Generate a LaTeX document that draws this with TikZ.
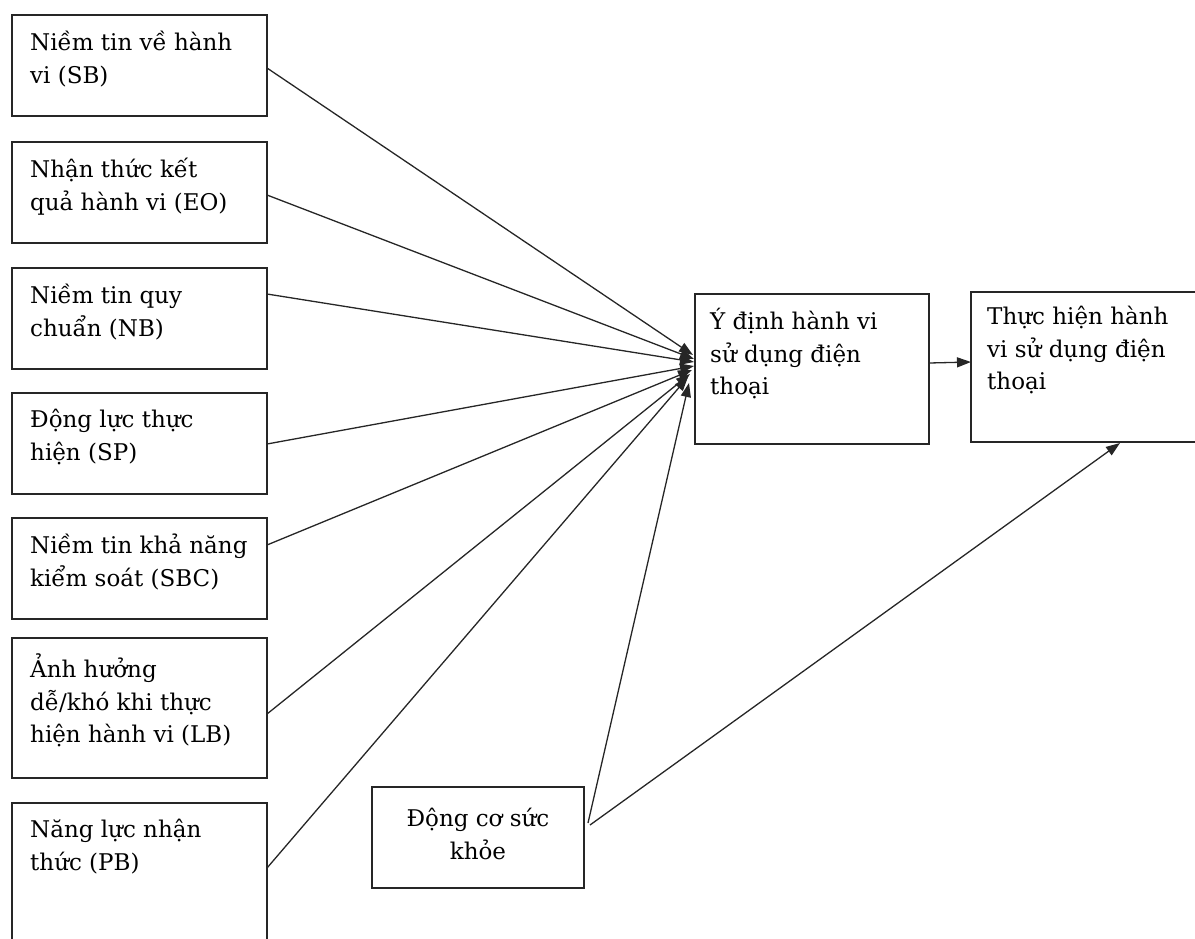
\documentclass[tikz,border=0pt]{standalone}
\usepackage{fontspec}
\setmainfont{DejaVu Serif}
\usetikzlibrary{arrows.meta}
\begin{document}
\begin{tikzpicture}[x=1pt,y=-1pt,
  box/.style={draw=black!85,line width=1.5pt},
  lbl/.style={anchor=north west,inner sep=0pt,align=left,font=\fontsize{23}{32.5}\selectfont},
  conn/.style={draw=black!85,line width=1.3pt,-{Triangle[length=14pt,width=10pt]}}]
\useasboundingbox (0,0) rectangle (1195,938);
\begin{scope}
\clip (0,0) rectangle (1195,938);
% left boxes
\draw[box] (12,15) rectangle (267,116);
\draw[box] (12,142) rectangle (267,243);
\draw[box] (12,268) rectangle (267,369);
\draw[box] (12,393) rectangle (267,494);
\draw[box] (12,518) rectangle (267,619);
\draw[box] (12,638) rectangle (267,778);
\draw[box] (12,803) rectangle (267,950);
% center/right boxes
\draw[box] (695,294) rectangle (929,444);
\draw[box] (971,292) rectangle (1200,442);
\draw[box] (372,787) rectangle (584,888);
\end{scope}
% labels
\node[lbl] (t1) at (30,31) {Niềm tin về hành\\vi (SB)};
\node[lbl] (t2) at (30,158) {Nhận thức kết\\quả hành vi (EO)};
\node[lbl] (t3) at (30,284) {Niềm tin quy\\chuẩn (NB)};
\node[lbl] (t4) at (30,409) {Động lực thực\\hiện (SP)};
\node[lbl] (t5) at (30,534) {Niềm tin khả năng\\kiểm soát (SBC)};
\node[lbl] (t6) at (30,654) {Ảnh hưởng\\dễ/khó khi thực\\hiện hành vi (LB)};
\node[lbl] (t7) at (30,819) {Năng lực nhận\\thức (PB)};
\node[lbl] (ti) at (710,308) {Ý định hành vi\\sử dụng điện\\thoại};
\node[lbl] (tb) at (987,306) {Thực hiện hành\\vi sử dụng điện\\thoại};
\node[anchor=north,inner sep=0pt,align=center,font=\fontsize{23}{32.5}\selectfont] (th) at (478,808) {Động cơ sức\\khỏe};
% anchor coordinates
\coordinate (s1) at (267,68);
\coordinate (s2) at (267,195);
\coordinate (s3) at (267,294);
\coordinate (s4) at (267,444);
\coordinate (s5) at (267,545);
\coordinate (s6) at (267,714);
\coordinate (s7) at (267,868);
\coordinate (sh) at (588,823);
\coordinate (sh2) at (590,825);
\coordinate (e1) at (693,355);
\coordinate (e2) at (694,359);
\coordinate (e3) at (694,362);
\coordinate (e4) at (694,366);
\coordinate (e5) at (692,370);
\coordinate (e6) at (690,374);
\coordinate (e7) at (688,377);
\coordinate (eh) at (689,383);
\coordinate (ib) at (929,363);
\coordinate (bi) at (971,362);
\coordinate (bb) at (1120,443);
\draw[conn] (s1) -- (e1);
\draw[conn] (s2) -- (e2);
\draw[conn] (s3) -- (e3);
\draw[conn] (s4) -- (e4);
\draw[conn] (s5) -- (e5);
\draw[conn] (s6) -- (e6);
\draw[conn] (s7) -- (e7);
\draw[conn] (sh) -- (eh);
\draw[conn] (sh2) -- (bb);
\draw[conn] (ib) -- (bi);
\end{tikzpicture}
\end{document}
